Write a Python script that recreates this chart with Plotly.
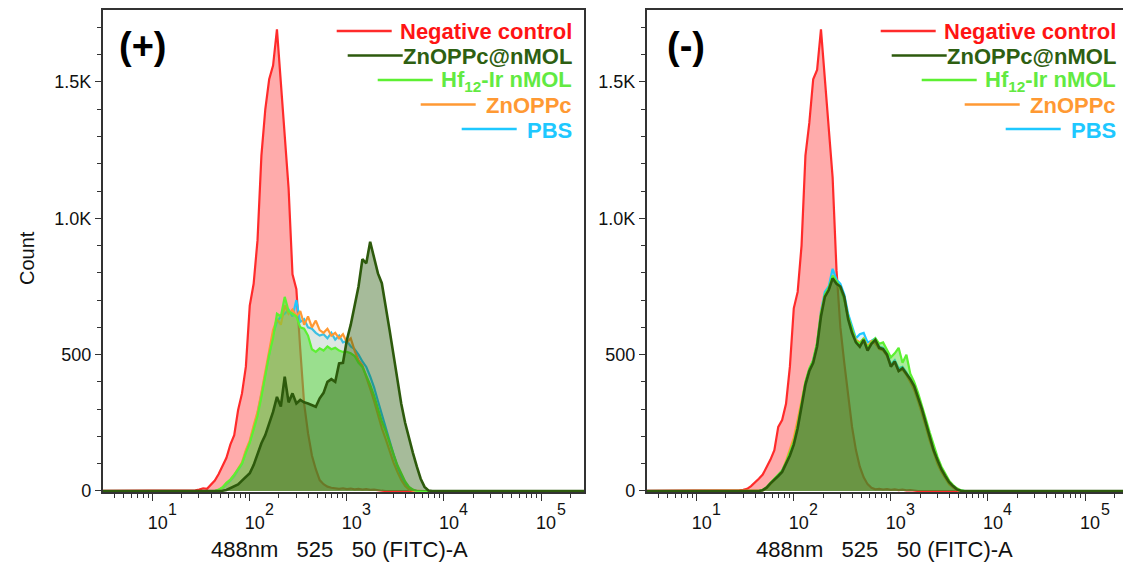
import plotly.graph_objects as go

W, H = 1123, 563

# histogram bin centres, log10 of the 488nm 525/50 (FITC)-A intensity
BIN_LOG = [0.45,
           1.40, 1.44, 1.48, 1.52, 1.56, 1.60, 1.64, 1.68,
           1.72, 1.76, 1.80, 1.84, 1.88, 1.92, 1.96, 2.00,
           2.04, 2.08, 2.12, 2.16, 2.20, 2.24, 2.28, 2.32,
           2.36, 2.40, 2.44, 2.48, 2.52, 2.56, 2.60, 2.64,
           2.68, 2.72, 2.76, 2.80, 2.84, 2.88, 2.92, 2.96,
           3.00, 3.04, 3.08, 3.12, 3.16, 3.20, 3.24, 3.28,
           3.32, 3.36, 3.40, 3.44, 3.48, 3.52, 3.56, 3.60,
           3.64, 3.68, 3.72, 3.76, 3.80, 3.84, 3.88, 3.92,
           5.50]

# ---- panel (+) counts ----
NEG_PLUS = [0,
            0, 2, 5, 10, 8, 24, 38, 62,
            95, 122, 170, 205, 297, 358, 456, 680,
            760, 920, 1230, 1400, 1510, 1560, 1693, 1490,
            1313, 1110, 795, 740, 520, 320, 212, 130,
            80, 40, 25, 16, 12, 9, 8, 10,
            7, 9, 6, 8, 5, 7, 4, 5,
            2, 1, 0, 0, 0, 0, 0, 0,
            0, 0, 0, 0, 0, 0, 0, 0,
            0]
PBS_PLUS = [0,
            0, 0, 0, 0, 0, 0, 0, 3,
            10, 25, 38, 55, 78, 100, 145, 180,
            232, 285, 355, 430, 505, 575, 620, 640,
            650, 665, 640, 700, 620, 630, 600, 595,
            580, 570, 575, 560, 580, 555, 570, 545,
            550, 530, 520, 500, 475, 455, 420, 380,
            330, 280, 230, 180, 135, 90, 55, 28,
            12, 3, 0, 0, 0, 0, 0, 0,
            0]
ZN_PLUS = [0,
           0, 0, 0, 0, 0, 0, 0, 4,
           12, 28, 40, 58, 82, 105, 150, 185,
           240, 290, 360, 440, 520, 590, 630, 610,
           680, 650, 665, 640, 660, 610, 640, 600,
           625, 590, 580, 595, 570, 580, 560, 575,
           545, 560, 515, 480, 460, 420, 375, 330,
           280, 230, 190, 145, 105, 70, 40, 18,
           5, 1, 0, 0, 0, 0, 0, 0,
           0]
HF_PLUS = [0,
           0, 0, 0, 0, 0, 0, 0, 5,
           14, 30, 42, 60, 80, 100, 140, 176,
           225, 275, 345, 420, 500, 560, 650, 640,
           712, 660, 650, 640, 600, 595, 570, 520,
           510, 523, 515, 530, 520, 525, 515, 510,
           510, 505, 495, 470, 455, 425, 390, 350,
           300, 255, 220, 175, 135, 95, 62, 35,
           15, 5, 0, 0, 0, 0, 0, 0,
           0]
NMOL_PLUS = [0,
             0, 0, 0, 0, 0, 0, 0, 0,
             1, 4, 10, 18, 24, 38, 50, 65,
             95, 135, 175, 205, 250, 290, 345, 310,
             419, 325, 358, 321, 334, 325, 321, 315,
             309, 340, 360, 400, 410, 400, 468, 470,
             554, 610, 680, 750, 850, 835, 914, 860,
             798, 762, 680, 590, 500, 410, 320, 250,
             190, 140, 90, 45, 15, 2, 0, 0,
             0]

# ---- panel (-) counts ----
NEG_MINUS = [0,
             0, 2, 4, 8, 18, 30, 45, 60,
             85, 115, 150, 235, 260, 320, 456, 670,
             730, 900, 1230, 1350, 1510, 1544, 1693, 1507,
             1330, 1150, 810, 600, 470, 350, 235, 150,
             89, 50, 25, 12, 6, 8, 5, 7,
             4, 6, 3, 5, 2, 3, 1, 0,
             0, 0, 0, 0, 0, 0, 0, 0,
             0, 0, 0, 0, 0, 0, 0, 0,
             0]
PBS_MINUS = [0,
             0, 0, 0, 0, 0, 0, 0, 3,
             11, 27, 41, 57, 74, 102, 135, 178,
             235, 315, 395, 445, 480, 540, 660, 730,
             750, 815, 775, 760, 720, 650, 600, 560,
             575, 580, 545, 550, 560, 530, 525, 505,
             465, 480, 450, 455, 435, 410, 385, 345,
             300, 250, 200, 152, 115, 80, 52, 30,
             15, 5, 1, 0, 0, 0, 0, 0,
             0]
ZN_MINUS = [0,
            0, 0, 0, 0, 0, 0, 0, 2,
            10, 26, 40, 56, 72, 110, 150, 195,
            260, 330, 400, 445, 475, 540, 655, 715,
            735, 785, 765, 740, 705, 635, 590, 555,
            545, 560, 530, 550, 540, 520, 515, 495,
            460, 470, 440, 445, 425, 400, 370, 330,
            285, 235, 185, 140, 100, 70, 45, 25,
            12, 4, 0, 0, 0, 0, 0, 0,
            0]
HF_MINUS = [0,
            0, 0, 0, 0, 0, 0, 0, 4,
            14, 30, 44, 58, 75, 105, 140, 180,
            240, 320, 400, 450, 480, 545, 650, 720,
            745, 790, 770, 745, 700, 640, 590, 550,
            540, 560, 525, 545, 560, 540, 545, 520,
            490, 505, 525, 470, 500, 430, 400, 360,
            315, 265, 215, 165, 125, 90, 62, 38,
            22, 10, 3, 0, 0, 0, 0, 0,
            0]
NMOL_MINUS = [0,
              0, 0, 0, 0, 0, 0, 0, 3,
              12, 28, 40, 55, 70, 100, 130, 170,
              230, 310, 390, 440, 470, 530, 640, 712,
              737, 780, 760, 750, 712, 630, 580, 545,
              529, 554, 515, 540, 554, 525, 520, 500,
              456, 475, 440, 450, 431, 410, 385, 346,
              300, 250, 200, 150, 114, 80, 55, 32,
              18, 6, 1, 0, 0, 0, 0, 0,
              0]

SAMPLES = ["Negative control", "ZnOPPc@nMOL", "Hf<sub>12</sub>-Ir nMOL", "ZnOPPc", "PBS"]
DECADES = [1, 2, 3, 4, 5]
Y_TICKS = [0, 500, 1000, 1500]
Y_TICK_TEXT = ["0", "500", "1.0K", "1.5K"]

FONT = "Liberation Sans, Arial, sans-serif"

# line colour, fill colour, legend text colour
STYLE = {
    "Negative control": ("#ff2b2b", "rgba(255,0,0,0.33)", "#ff1414"),
    "ZnOPPc@nMOL": ("#2d5a0c", "rgba(40,90,10,0.41)", "#2e5f12"),
    "Hf<sub>12</sub>-Ir nMOL": ("#5cf032", "rgba(80,215,50,0.48)", "#62ea42"),
    "ZnOPPc": ("#ff9933", "rgba(255,150,50,0.14)", "#ff9933"),
    "PBS": ("#1ec8ff", "rgba(0,190,255,0.15)", "#1ec8ff"),
}

x_vals = [10 ** b for b in BIN_LOG]

panels = [
    ("x", "y", {"Negative control": NEG_PLUS, "PBS": PBS_PLUS, "ZnOPPc": ZN_PLUS,
                "Hf<sub>12</sub>-Ir nMOL": HF_PLUS, "ZnOPPc@nMOL": NMOL_PLUS}),
    ("x2", "y2", {"Negative control": NEG_MINUS, "PBS": PBS_MINUS, "ZnOPPc": ZN_MINUS,
                  "Hf<sub>12</sub>-Ir nMOL": HF_MINUS, "ZnOPPc@nMOL": NMOL_MINUS}),
]
draw_order = ["Negative control", "PBS", "ZnOPPc", "Hf<sub>12</sub>-Ir nMOL", "ZnOPPc@nMOL"]

fig = go.Figure()
for xa, ya, series in panels:
    for name in draw_order:
        line_c, fill_c, _ = STYLE[name]
        fig.add_trace(go.Scatter(
            x=x_vals, y=series[name], xaxis=xa, yaxis=ya,
            mode="lines", fill="tozeroy", fillcolor=fill_c,
            line=dict(color=line_c, width=2.6 if name == "ZnOPPc@nMOL" else 2.2),
            name=name, showlegend=False, hoverinfo="skip",
        ))


def px(x):
    return x / W


def py(y):
    return 1 - y / H


minor_x = [m * 10 ** e for e in range(0, 6) for m in range(2, 10)]
axis_common = dict(showline=True, linecolor="#333", linewidth=1.5, showgrid=False,
                   zeroline=False, ticks="outside", tickcolor="#333", tickwidth=1.3,
                   tickfont=dict(family=FONT, size=18, color="#111"), automargin=False)

# base "10" on the axis, exponent added as a separate raised label below
xa_common = dict(axis_common, type="log", ticklen=7, tickmode="array",
                 tickvals=[10 ** d for d in DECADES],
                 ticktext=["10" for d in DECADES],
                 ticklabelshift=5, ticklabelstandoff=7,
                 minor=dict(tickmode="array", tickvals=minor_x, ticks="outside",
                            ticklen=4, tickcolor="#333", tickwidth=1, showgrid=False))
ya_common = dict(axis_common, range=[-3.7, 1764], ticklen=6, tickmode="array",
                 tickvals=Y_TICKS, ticktext=Y_TICK_TEXT,
                 minor=dict(tick0=0, dtick=100, ticks="outside", ticklen=4,
                            tickcolor="#333", tickwidth=1, showgrid=False))

ydom = [py(492), py(10)]
fig.update_layout(
    width=W, height=H, margin=dict(l=0, r=0, t=0, b=0),
    template="none", plot_bgcolor="white", paper_bgcolor="white", showlegend=False,
    xaxis=dict(xa_common, domain=[px(102.7), px(584)], range=[0.4856, 5.442],
               anchor="y", mirror=True),
    yaxis=dict(ya_common, domain=ydom, anchor="x", mirror=True),
    xaxis2=dict(xa_common, domain=[px(646.7), 1.0], range=[0.485, 5.391],
                anchor="y2", mirror=True),
    yaxis2=dict(ya_common, domain=ydom, anchor="x2", mirror=False),
)

annotations = []
shapes = []
row_y = [31, 55.5, 80, 104.5, 129]
line_end = [289, 300, 330, 373, 414]
for left, tag, title_x in [(102.7, "(+)", 143), (646.7, "(-)", 686)]:
    annotations.append(dict(x=px(title_x), y=py(46), xref="paper", yref="paper",
                            xanchor="center", yanchor="middle",
                            text="<b>%s</b>" % tag, showarrow=False,
                            font=dict(family=FONT, size=38, color="black")))
    for i, name in enumerate(SAMPLES):
        _, _, txt_c = STYLE[name]
        annotations.append(dict(x=px(left + 471), y=py(row_y[i] + 1), xref="paper",
                                yref="paper", xanchor="right", yanchor="middle",
                                text="<b>%s</b>" % name, showarrow=False,
                                font=dict(family=FONT, size=22, color=txt_c)))
        shapes.append(dict(type="line", xref="paper", yref="paper",
                           x0=px(left + line_end[i] - 55), x1=px(left + line_end[i]),
                           y0=py(row_y[i]), y1=py(row_y[i]),
                           line=dict(color=STYLE[name][0], width=2.5)))

# exponents of the decade labels
for xa in ["x", "x2"]:
    for d in DECADES:
        annotations.append(dict(x=d, xref=xa, y=py(509), yref="paper", text=str(d),
                                xanchor="center", yanchor="middle", xshift=20,
                                showarrow=False,
                                font=dict(family=FONT, size=16, color="#111")))

x_title = "488nm\u00a0\u00a0\u00a0525\u00a0\u00a0\u00a050 (FITC)-A"
for cx in [339, 884]:
    annotations.append(dict(x=px(cx), y=py(549), xref="paper", yref="paper",
                            xanchor="center", yanchor="middle",
                            text=x_title, showarrow=False,
                            font=dict(family=FONT, size=22, color="#111")))
annotations.append(dict(x=px(27), y=py(258), xref="paper", yref="paper", text="Count",
                        xanchor="center", yanchor="middle",
                        textangle=-90, showarrow=False,
                        font=dict(family=FONT, size=20, color="#111")))

fig.update_layout(annotations=annotations, shapes=shapes)
fig.write_html("out.html", config={"displayModeBar": False},
               post_script="document.body.style.margin='0px';")
